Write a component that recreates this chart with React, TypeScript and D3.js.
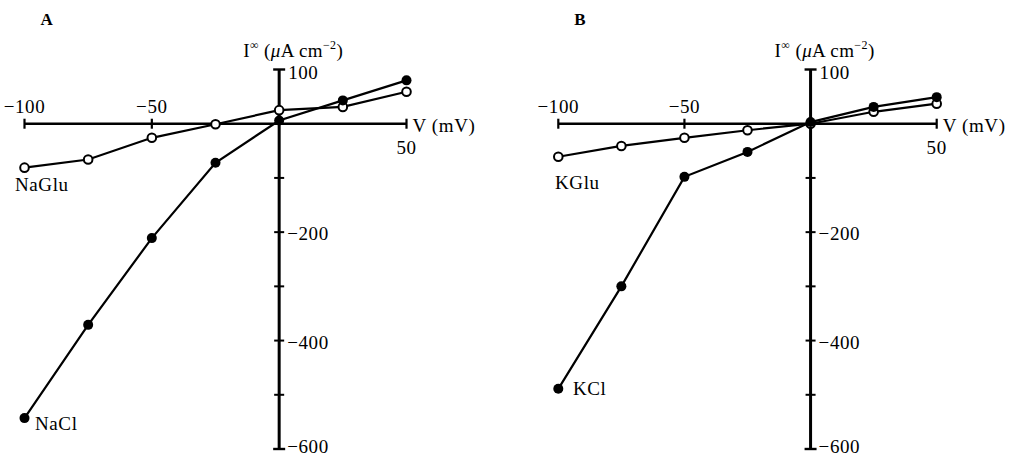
import React from 'react';
import * as d3 from 'd3';

// membrane potential (mV) at which steady-state current was measured
const voltages = [-100, -75, -50, -25, 0, 25, 50];

// panel A, sodium salts (µA cm^-2)
const naGlu = [-81, -66, -26, -1, 25, 31, 59];
const naCl = [-543, -371, -211, -72, 6, 43, 80];

// panel B, potassium salts (µA cm^-2)
const kGlu = [-61, -41, -26, -12, 0, 22, 37];
const kCl = [-489, -300, -98, -52, 3, 31, 49];

const yTicks = [-100, -200, -300, -400, -500];
const yTickLabels = [-200, -400, -600];
const xTickLabels = [-100, -50];

const FONT = '"Liberation Serif", "DejaVu Serif", serif';
const FS = 19;

interface Series {
  values: number[];
  filled: boolean;
  label: string;
}

interface PanelProps {
  letter: string;
  xRange: [number, number];
  series: Series[];
}

const yScale = d3.scaleLinear().domain([100, -600]).range([69.5, 449]);

const minus = (v: number) => (v < 0 ? '\u2212' + Math.abs(v) : String(v));

const Panel: React.FC<PanelProps> = ({ letter, xRange, series }) => {
  const x = d3.scaleLinear().domain([-100, 50]).range(xRange);
  const y = yScale;
  const x0 = x(0);
  const y0 = y(0);
  const line = d3
    .line<number>()
    .x((_, i) => x(voltages[i]))
    .y((d) => y(d));

  return (
    <g fontFamily={FONT} fontSize={FS} fill="#000">
      <text x={x(-100) + 16} y={25} fontWeight="bold" fontSize={17}>
        {letter}
      </text>

      {/* x axis */}
      <line x1={x(-100)} x2={x(50)} y1={y0} y2={y0} stroke="#000" strokeWidth={2.6} />
      {[-100, -50, 50].map((v) => (
        <line key={v} x1={x(v)} x2={x(v)} y1={y0 - 5} y2={y0 + 5} stroke="#000" strokeWidth={2.2} />
      ))}
      {xTickLabels.map((v) => (
        <text key={v} x={x(v)} y={y0 - 11} textAnchor="middle" letterSpacing={0.6}>
          {minus(v)}
        </text>
      ))}
      <text x={x(50)} y={y0 + 30} textAnchor="middle" letterSpacing={0.6}>
        50
      </text>
      <text x={x(50) + 6} y={y0 + 8} letterSpacing={0.6}>
        V (mV)
      </text>

      {/* y axis */}
      <line x1={x0} x2={x0} y1={y(100)} y2={y(-600)} stroke="#000" strokeWidth={3} />
      {[100, -600].map((v) => (
        <line key={v} x1={x0 - 6} x2={x0 + 6} y1={y(v)} y2={y(v)} stroke="#000" strokeWidth={2.4} />
      ))}
      {yTicks.map((v) => (
        <line key={v} x1={x0 - 5} x2={x0 + 5} y1={y(v)} y2={y(v)} stroke="#000" strokeWidth={2} />
      ))}
      <text x={x0 + 9} y={y(100) + 9} letterSpacing={0.6}>
        100
      </text>
      {yTickLabels.map((v) => (
        <text key={v} x={x0 + 8} y={Math.min(y(v) + 8, 453)} letterSpacing={0.6}>
          {minus(v)}
        </text>
      ))}
      <text x={x0 - 36} y={57} letterSpacing={0.4}>
        I<tspan fontSize={12} dy={-8}>{'\u221E'}</tspan>
        <tspan dy={8}> (</tspan>
        <tspan fontStyle="italic">{'\u03BC'}</tspan>A cm
        <tspan fontSize={12} dy={-8}>{'\u22122'}</tspan>
        <tspan dy={8}>)</tspan>
      </text>

      {/* data */}
      {series.map((s) => (
        <g key={s.label}>
          <path d={line(s.values) ?? ''} fill="none" stroke="#000" strokeWidth={2.2} />
          {s.values.map((v, i) => (
            <circle
              key={i}
              cx={x(voltages[i])}
              cy={y(v)}
              r={s.filled ? 5 : 4.3}
              fill={s.filled ? '#000' : '#fff'}
              stroke="#000"
              strokeWidth={s.filled ? 0 : 2}
            />
          ))}
        </g>
      ))}
    </g>
  );
};

export default function App() {
  return (
    <svg
      width={1025}
      height={458}
      viewBox="0 0 1025 458"
      style={{ position: 'absolute', left: 0, top: 0, background: '#fff' }}
    >
      <rect width={1025} height={458} fill="#fff" />
      <Panel
        letter="A"
        xRange={[24.5, 406.5]}
        series={[
          { values: naGlu, filled: false, label: 'NaGlu' },
          { values: naCl, filled: true, label: 'NaCl' },
        ]}
      />
      <g fontFamily={FONT} fontSize={FS}>
        <text x={15} y={191} letterSpacing={0.6}>NaGlu</text>
        <text x={35} y={430} letterSpacing={0.6}>NaCl</text>
      </g>
      <Panel
        letter="B"
        xRange={[558.3, 936.7]}
        series={[
          { values: kGlu, filled: false, label: 'KGlu' },
          { values: kCl, filled: true, label: 'KCl' },
        ]}
      />
      <g fontFamily={FONT} fontSize={FS}>
        <text x={555} y={189} letterSpacing={0.6}>KGlu</text>
        <text x={573} y={395} letterSpacing={0.6}>KCl</text>
      </g>
    </svg>
  );
}
